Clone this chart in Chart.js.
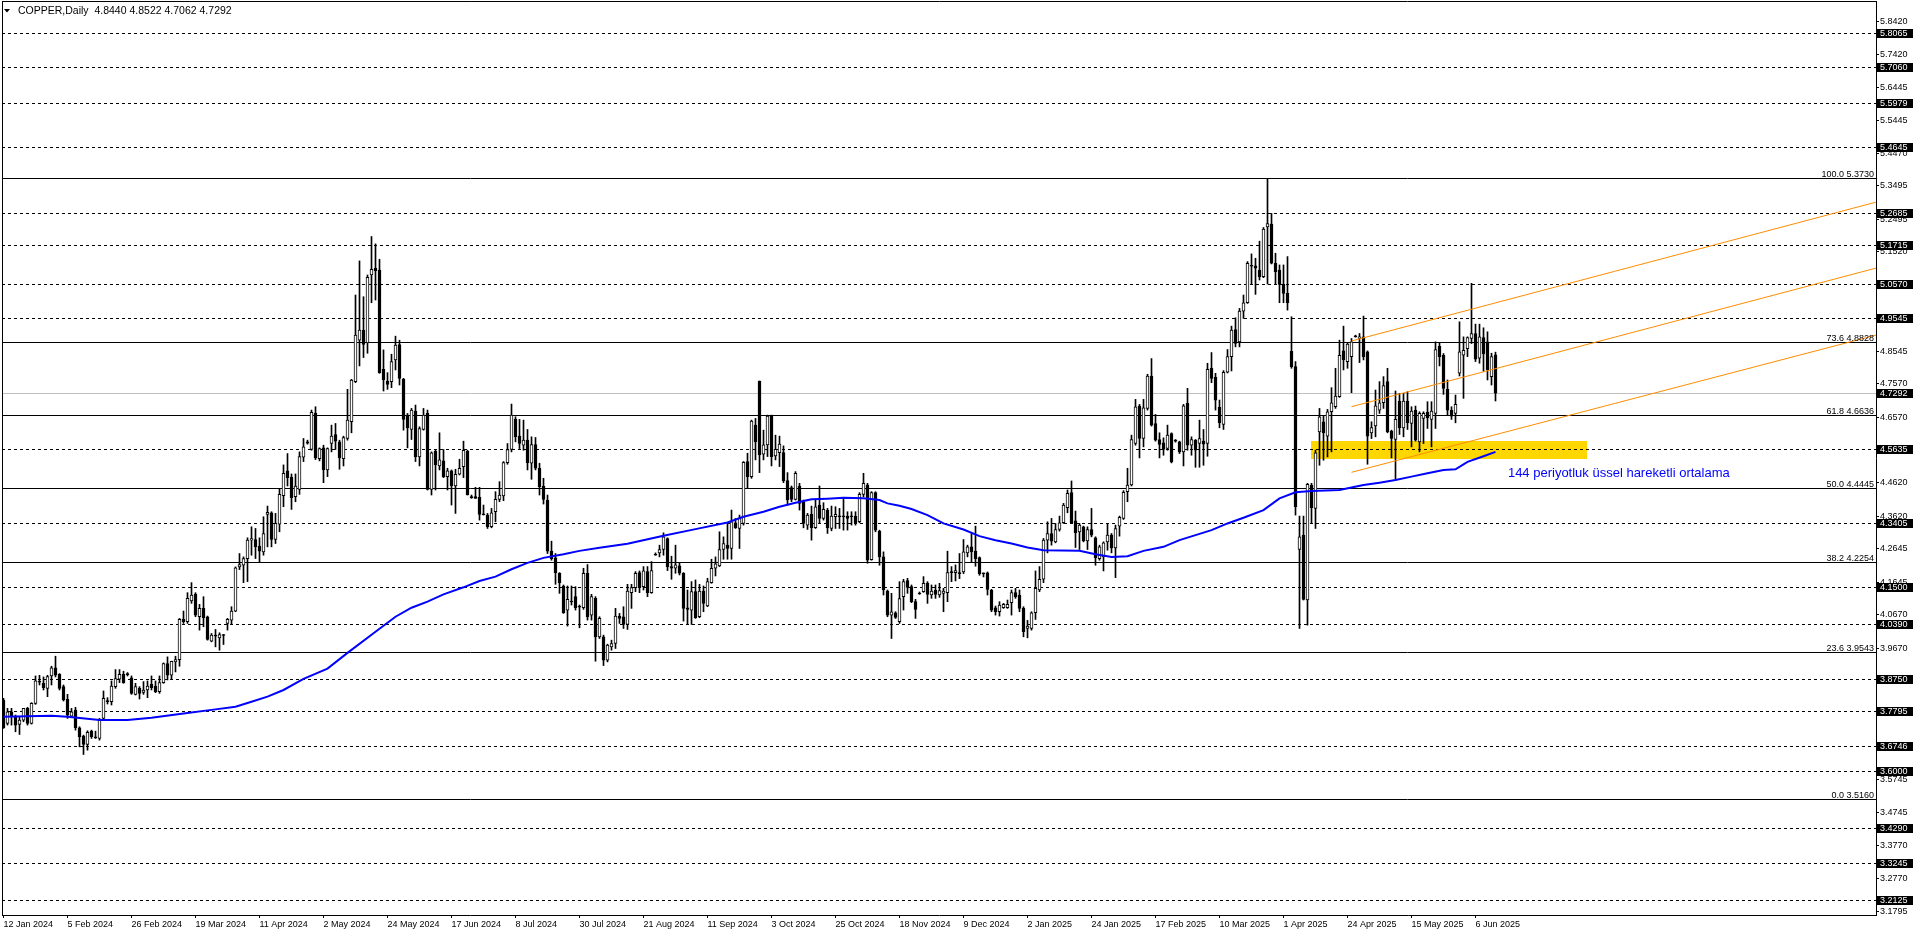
<!DOCTYPE html>
<html><head><meta charset="utf-8">
<script src="https://cdn.jsdelivr.net/npm/chart.js@4.4.1/dist/chart.umd.min.js"></script>
<style>html,body{margin:0;padding:0;background:#fff;overflow:hidden}canvas{display:block}</style>
</head><body>
<canvas id="c" width="1916" height="936"></canvas>
<script>
// ---------- DATA ----------
const chartTitle = "COPPER,Daily";
const lastQuote = ["4.8440", "4.8522", "4.7062", "4.7292"];

const xTickBars = [0,16,32,48,64,80,96,112,128,144,160,176,192,208,224,240,256,272,288,304,320,336,352,368];
const xTickLabels = ["12 Jan 2024","5 Feb 2024","26 Feb 2024","19 Mar 2024","11 Apr 2024","2 May 2024","24 May 2024","17 Jun 2024","8 Jul 2024","30 Jul 2024","21 Aug 2024","11 Sep 2024","3 Oct 2024","25 Oct 2024","18 Nov 2024","9 Dec 2024","2 Jan 2025","24 Jan 2025","17 Feb 2025","10 Mar 2025","1 Apr 2025","24 Apr 2025","15 May 2025","6 Jun 2025"];

const yTickValues = [5.8420,5.7420,5.6445,5.5445,5.4470,5.3495,5.2495,5.1520,5.0545,4.9545,4.8545,4.7570,4.6570,4.5595,4.4620,4.3620,4.2645,4.1645,4.0670,3.9670,3.8695,3.7720,3.6720,3.5745,3.4745,3.3770,3.2770,3.1795];

const opens = [
3.812,3.742,3.777,3.764,3.739,3.752,3.787,3.742,3.802,3.865,
3.862,3.847,3.884,3.908,3.889,3.852,3.814,3.764,3.782,3.729,
3.704,3.679,3.719,3.700,3.697,3.757,3.807,3.807,3.852,3.874,
3.889,3.889,3.878,3.829,3.847,3.835,3.842,3.859,3.854,3.837,
3.864,3.921,3.886,3.926,3.933,4.053,4.046,4.108,4.129,4.061,
4.086,4.061,3.988,4.003,3.998,4.005,4.041,4.051,4.078,4.210,
4.215,4.235,4.290,4.292,4.272,4.255,4.367,4.372,4.292,4.338,
4.423,4.497,4.478,4.420,4.442,4.538,4.580,4.561,4.669,4.534,
4.566,4.500,4.579,4.606,4.584,4.534,4.594,4.644,4.764,4.888,
4.918,4.880,5.083,5.103,5.098,4.801,4.766,4.764,4.829,4.875,
4.771,4.664,4.621,4.676,4.539,4.621,4.669,4.442,4.556,4.512,
4.527,4.480,4.497,4.452,4.487,4.510,4.556,4.418,4.420,4.418,
4.367,4.365,4.330,4.375,4.412,4.422,4.522,4.561,4.651,4.601,
4.574,4.589,4.520,4.576,4.505,4.452,4.410,4.257,4.237,4.191,
4.153,4.081,4.106,4.121,4.091,4.088,4.191,4.066,4.116,4.001,
4.001,3.931,3.971,3.981,4.063,4.061,4.038,4.133,4.148,4.193,
4.151,4.196,4.133,4.245,4.252,4.262,4.295,4.211,4.206,4.213,
4.191,4.088,4.081,4.136,4.061,4.138,4.093,4.163,4.206,4.213,
4.262,4.275,4.265,4.342,4.325,4.340,4.525,4.480,4.634,4.766,
4.547,4.575,4.661,4.542,4.552,4.552,4.468,4.447,4.412,4.452,
4.405,4.335,4.367,4.327,4.395,4.355,4.380,4.325,4.360,4.360,
4.361,4.362,4.360,4.362,4.345,4.427,4.455,4.232,4.432,4.317,
4.240,4.138,4.066,4.073,4.046,4.121,4.169,4.151,4.106,4.129,
4.136,4.161,4.126,4.141,4.126,4.131,4.133,4.193,4.193,4.190,
4.195,4.252,4.270,4.257,4.238,4.190,4.192,4.141,4.088,4.076,
4.088,4.088,4.103,4.133,4.126,4.086,4.026,4.026,4.073,4.141,
4.173,4.290,4.310,4.285,4.322,4.342,4.387,4.432,4.348,4.315,
4.330,4.288,4.322,4.297,4.235,4.240,4.285,4.305,4.267,4.332,
4.355,4.435,4.455,4.579,4.691,4.594,4.684,4.781,4.639,4.591,
4.581,4.564,4.609,4.586,4.584,4.554,4.699,4.574,4.589,4.579,
4.586,4.579,4.804,4.777,4.687,4.636,4.792,4.839,4.920,4.883,
4.975,5.000,5.110,5.110,5.098,5.078,5.227,5.235,5.118,5.098,
5.055,5.028,4.855,4.809,4.262,4.305,4.111,4.455,4.385,4.614,
4.644,4.601,4.674,4.689,4.719,4.856,4.824,4.839,4.898,4.893,
4.898,4.853,4.611,4.632,4.679,4.701,4.764,4.616,4.591,4.706,
4.626,4.706,4.639,4.679,4.584,4.654,4.672,4.651,4.669,4.870,
4.843,4.741,4.679,4.669,4.789,4.843,4.863,4.893,4.908,4.834,
4.896,4.883,4.779,4.8440];

const highs = [
3.817,3.787,3.787,3.767,3.762,3.787,3.790,3.804,3.884,3.886,
3.881,3.886,3.913,3.943,3.891,3.857,3.829,3.787,3.790,3.732,
3.707,3.720,3.722,3.719,3.757,3.839,3.819,3.869,3.903,3.903,
3.898,3.894,3.884,3.862,3.852,3.867,3.869,3.884,3.869,3.884,
3.923,3.941,3.928,3.943,4.056,4.078,4.133,4.163,4.133,4.098,
4.121,4.063,4.011,4.023,4.013,4.008,4.056,4.091,4.210,4.250,
4.240,4.297,4.330,4.325,4.297,4.360,4.392,4.375,4.370,4.445,
4.515,4.549,4.488,4.488,4.554,4.594,4.589,4.679,4.689,4.566,
4.574,4.566,4.634,4.639,4.589,4.601,4.741,4.771,5.023,5.125,
5.018,5.083,5.198,5.176,5.130,4.859,4.791,4.846,4.900,4.888,
4.774,4.669,4.684,4.694,4.629,4.684,4.679,4.554,4.559,4.611,
4.561,4.505,4.500,4.502,4.532,4.586,4.559,4.425,4.448,4.448,
4.395,4.370,4.385,4.435,4.465,4.525,4.579,4.697,4.659,4.651,
4.649,4.621,4.599,4.597,4.520,4.475,4.425,4.287,4.250,4.193,
4.156,4.153,4.153,4.151,4.096,4.206,4.217,4.128,4.121,4.061,
4.006,3.979,3.991,4.086,4.071,4.091,4.158,4.158,4.196,4.198,
4.211,4.211,4.226,4.252,4.275,4.312,4.297,4.242,4.275,4.223,
4.193,4.141,4.166,4.171,4.158,4.153,4.176,4.233,4.240,4.315,
4.300,4.340,4.380,4.355,4.365,4.525,4.550,4.649,4.654,4.766,
4.619,4.664,4.664,4.604,4.601,4.572,4.492,4.452,4.495,4.460,
4.410,4.370,4.392,4.410,4.452,4.402,4.385,4.392,4.390,4.385,
4.412,4.375,4.375,4.375,4.432,4.490,4.460,4.435,4.435,4.320,
4.255,4.141,4.131,4.076,4.166,4.173,4.176,4.156,4.113,4.135,
4.181,4.166,4.156,4.156,4.161,4.146,4.257,4.211,4.216,4.250,
4.292,4.275,4.312,4.332,4.240,4.192,4.195,4.143,4.093,4.106,
4.101,4.111,4.141,4.146,4.141,4.091,4.050,4.076,4.198,4.211,
4.295,4.345,4.355,4.340,4.362,4.400,4.440,4.467,4.377,4.340,
4.332,4.330,4.385,4.300,4.275,4.285,4.340,4.310,4.335,4.362,
4.438,4.505,4.604,4.711,4.696,4.711,4.786,4.833,4.666,4.611,
4.596,4.634,4.611,4.591,4.586,4.696,4.744,4.599,4.591,4.649,
4.621,4.819,4.851,4.789,4.709,4.797,4.860,4.930,4.955,4.983,
5.023,5.123,5.146,5.133,5.184,5.225,5.372,5.267,5.148,5.113,
5.113,5.138,4.958,4.824,4.362,4.362,4.460,4.460,4.559,4.684,
4.661,4.681,4.746,4.804,4.888,4.930,4.880,4.893,4.903,4.908,
4.960,4.856,4.644,4.739,4.764,4.779,4.804,4.619,4.736,4.729,
4.729,4.734,4.689,4.691,4.674,4.674,4.704,4.704,4.883,4.880,
4.848,4.769,4.689,4.724,4.943,4.898,4.898,5.058,4.936,4.936,
4.925,4.913,4.849,4.8522];

const lows = [
3.727,3.737,3.737,3.717,3.709,3.747,3.737,3.740,3.799,3.857,
3.842,3.822,3.857,3.881,3.842,3.809,3.757,3.762,3.722,3.672,
3.649,3.662,3.697,3.697,3.692,3.752,3.800,3.797,3.847,3.864,
3.862,3.884,3.829,3.827,3.815,3.829,3.819,3.842,3.834,3.832,
3.862,3.872,3.874,3.896,3.913,4.041,4.041,4.101,4.061,4.021,
4.031,3.991,3.986,3.971,3.961,3.978,4.021,4.038,4.076,4.202,
4.163,4.166,4.245,4.235,4.225,4.245,4.270,4.270,4.280,4.315,
4.390,4.452,4.382,4.405,4.427,4.525,4.577,4.559,4.531,4.527,
4.462,4.480,4.554,4.561,4.502,4.512,4.589,4.611,4.761,4.811,
4.836,4.849,5.000,5.008,4.789,4.736,4.741,4.746,4.799,4.754,
4.619,4.566,4.591,4.525,4.512,4.619,4.440,4.425,4.440,4.500,
4.477,4.440,4.395,4.370,4.485,4.477,4.425,4.415,4.415,4.350,
4.365,4.325,4.327,4.345,4.405,4.408,4.517,4.554,4.584,4.564,
4.559,4.500,4.472,4.500,4.425,4.398,4.250,4.230,4.158,4.131,
4.071,4.033,4.096,4.081,4.028,4.083,4.051,4.051,3.928,3.996,
3.915,3.926,3.961,3.966,4.041,4.026,4.023,4.086,4.136,4.133,
4.141,4.121,4.131,4.245,4.240,4.245,4.199,4.173,4.191,4.186,
4.048,4.038,4.038,4.056,4.058,4.076,4.091,4.161,4.183,4.211,
4.233,4.233,4.233,4.325,4.265,4.335,4.447,4.475,4.530,4.492,
4.530,4.540,4.512,4.530,4.510,4.462,4.395,4.405,4.410,4.380,
4.327,4.322,4.290,4.325,4.340,4.350,4.310,4.318,4.325,4.325,
4.320,4.320,4.335,4.335,4.342,4.420,4.221,4.230,4.315,4.215,
4.126,4.061,3.996,4.056,4.041,4.081,4.131,4.103,4.056,4.128,
4.134,4.101,4.116,4.116,4.119,4.076,4.106,4.166,4.168,4.175,
4.190,4.240,4.225,4.212,4.185,4.180,4.126,4.076,4.066,4.063,
4.086,4.086,4.066,4.116,4.076,4.001,3.998,4.021,4.053,4.136,
4.163,4.252,4.275,4.282,4.317,4.340,4.372,4.340,4.268,4.262,
4.285,4.262,4.300,4.215,4.230,4.198,4.260,4.252,4.178,4.302,
4.352,4.405,4.452,4.574,4.536,4.569,4.679,4.631,4.586,4.536,
4.544,4.559,4.521,4.583,4.549,4.512,4.559,4.544,4.508,4.508,
4.514,4.541,4.761,4.679,4.626,4.621,4.790,4.796,4.868,4.868,
4.953,4.998,5.055,5.025,5.068,5.075,5.056,5.116,5.055,5.000,
5.000,4.978,4.804,4.365,4.026,4.111,4.036,4.340,4.325,4.514,
4.529,4.539,4.554,4.684,4.717,4.799,4.804,4.731,4.897,4.821,
4.829,4.517,4.594,4.599,4.669,4.684,4.611,4.536,4.472,4.606,
4.599,4.621,4.569,4.586,4.554,4.579,4.624,4.569,4.624,4.811,
4.726,4.664,4.651,4.641,4.781,4.714,4.839,4.878,4.824,4.819,
4.795,4.769,4.754,4.7062];

const closes = [
3.729,3.777,3.762,3.737,3.752,3.787,3.742,3.802,3.869,3.868,
3.849,3.882,3.908,3.886,3.847,3.812,3.767,3.777,3.729,3.702,
3.679,3.715,3.702,3.699,3.752,3.817,3.809,3.854,3.876,3.889,
3.864,3.888,3.832,3.852,3.832,3.842,3.854,3.849,3.837,3.864,
3.921,3.886,3.928,3.933,4.053,4.046,4.116,4.126,4.066,4.086,
4.058,3.993,4.006,4.004,4.008,4.006,4.053,4.078,4.207,4.217,
4.235,4.290,4.295,4.270,4.257,4.310,4.373,4.292,4.340,4.427,
4.490,4.477,4.417,4.452,4.540,4.569,4.584,4.672,4.536,4.564,
4.500,4.564,4.601,4.586,4.536,4.597,4.649,4.769,4.903,4.918,
4.875,5.076,5.100,5.096,4.791,4.769,4.756,4.824,4.873,4.774,
4.651,4.626,4.679,4.539,4.624,4.664,4.442,4.551,4.515,4.530,
4.480,4.497,4.452,4.487,4.505,4.559,4.425,4.417,4.415,4.367,
4.366,4.330,4.372,4.412,4.425,4.522,4.561,4.664,4.599,4.579,
4.589,4.522,4.576,4.505,4.450,4.412,4.257,4.235,4.193,4.163,
4.073,4.113,4.105,4.088,4.090,4.191,4.061,4.121,4.001,4.056,
3.931,3.976,3.981,4.063,4.056,4.038,4.138,4.148,4.191,4.148,
4.198,4.133,4.199,4.246,4.262,4.300,4.211,4.206,4.216,4.191,
4.086,4.083,4.136,4.058,4.138,4.101,4.166,4.206,4.219,4.262,
4.280,4.265,4.345,4.327,4.355,4.523,4.480,4.646,4.584,4.545,
4.575,4.661,4.540,4.562,4.577,4.468,4.410,4.412,4.490,4.400,
4.340,4.365,4.327,4.390,4.355,4.382,4.327,4.362,4.367,4.361,
4.360,4.355,4.361,4.340,4.427,4.460,4.230,4.432,4.320,4.240,
4.141,4.066,4.076,4.059,4.115,4.166,4.149,4.106,4.083,4.130,
4.161,4.128,4.138,4.128,4.139,4.138,4.193,4.194,4.199,4.193,
4.255,4.270,4.255,4.235,4.190,4.189,4.143,4.081,4.076,4.096,
4.098,4.098,4.133,4.121,4.086,4.016,4.033,4.073,4.146,4.173,
4.290,4.310,4.287,4.322,4.342,4.395,4.430,4.342,4.312,4.335,
4.288,4.322,4.305,4.238,4.270,4.282,4.305,4.267,4.325,4.358,
4.433,4.455,4.591,4.689,4.594,4.686,4.781,4.634,4.589,4.576,
4.561,4.604,4.524,4.587,4.554,4.692,4.574,4.591,4.559,4.594,
4.577,4.801,4.774,4.709,4.641,4.792,4.839,4.918,4.878,4.975,
5.000,5.118,5.109,5.103,5.078,5.220,5.237,5.118,5.093,5.055,
5.028,5.000,4.809,4.390,4.300,4.113,4.457,4.387,4.551,4.659,
4.611,4.674,4.701,4.721,4.843,4.829,4.876,4.883,4.898,4.898,
4.839,4.601,4.627,4.692,4.701,4.752,4.614,4.594,4.651,4.626,
4.706,4.641,4.676,4.589,4.669,4.669,4.656,4.676,4.860,4.839,
4.744,4.679,4.661,4.696,4.853,4.858,4.896,4.908,4.831,4.898,
4.847,4.799,4.839,4.7292];

// 144-period EMA at these bars
const emaBars = [0,12,16,24,31,37,45,53,58,62,66,70,75,81,86,93,98,102,106,110,115,119,123,127,131,135,140,144,149,156,165,173,181,185,190,194,198,202,206,210,215,219,221,224,227,231,235,240,244,248,252,256,260,269,273,277,281,285,290,294,298,302,306,310,315,319,323,327,334,340,344,348,352,356,360,363,366,370,373];
const emaValues = [3.762,3.765,3.762,3.752,3.752,3.759,3.772,3.784,3.792,3.807,3.822,3.842,3.875,3.906,3.953,4.016,4.061,4.088,4.106,4.128,4.149,4.168,4.181,4.203,4.222,4.237,4.248,4.258,4.267,4.279,4.303,4.323,4.343,4.360,4.375,4.390,4.402,4.412,4.414,4.417,4.415,4.410,4.400,4.393,4.383,4.365,4.340,4.322,4.302,4.290,4.280,4.268,4.260,4.258,4.248,4.240,4.242,4.258,4.270,4.290,4.305,4.320,4.340,4.357,4.380,4.415,4.433,4.437,4.440,4.455,4.462,4.470,4.480,4.490,4.500,4.502,4.524,4.541,4.554];

// horizontal support/resistance levels (dashed)
const levelLines = [5.8065,5.7060,5.5979,5.4645,5.2685,5.1715,5.0570,4.9545,4.5635,4.3405,4.1500,4.0390,3.8750,3.7795,3.6746,3.6000,3.4290,3.3245,3.2125];
const currentPrice = 4.7292;
// Fibonacci retracement
const fibPercents = ["100.0","73.6","61.8","50.0","38.2","23.6","0.0"];
const fibLevels = [5.3730,4.8828,4.6636,4.4445,4.2254,3.9543,3.5160];
// orange channel: [startBar, startPrice, endBar, endPrice]
const channelUpper = [337, 4.8856, 469.2, 5.3042];
const channelMiddle = [337, 4.6891, 469.2, 5.1069];
const channelLower = [337, 4.4929, 469.2, 4.9065];
// yellow support zone
const zoneBars = [326.9, 395.9];
const zonePrices = [4.5336, 4.5865];
// annotation
const noteText = "144 periyotluk üssel hareketli ortalama";
const noteAnchor = [376.1, 4.4908];

// ---------- CHART ----------
const FONT = "'Liberation Sans', Arial, sans-serif";
Chart.defaults.font.family = FONT;
Chart.defaults.color = '#000';

const bars = opens.map((o, i) => i);
const wickData = bars.map(i => ({x: i, y: [lows[i], highs[i]]}));
const bodyData = bars.map(i => ({x: i, y: [Math.min(opens[i], closes[i]), Math.max(opens[i], closes[i])]}));
const emaData = emaBars.map((b, k) => ({x: b, y: emaValues[k]}));

function bodyColor(ctx) {
  const i = ctx.dataIndex;
  if (i === undefined) return '#000';
  const o = opens[i], c = closes[i];
  if (Math.abs(c - o) < 0.004) return '#000';
  return c >= o ? '#ffffff' : '#000000';
}

function hLine(ctx, a, py) {
  ctx.beginPath(); ctx.moveTo(a.left, py); ctx.lineTo(a.right, py); ctx.stroke();
}

const overlay = {
  id: 'overlay',
  beforeDatasetsDraw(chart) {
    const {ctx, chartArea: a, scales: {x, y}} = chart;
    ctx.save();
    // yellow zone
    const zx0 = x.getPixelForValue(zoneBars[0]), zx1 = x.getPixelForValue(zoneBars[1]);
    const zy0 = y.getPixelForValue(zonePrices[1]), zy1 = y.getPixelForValue(zonePrices[0]);
    ctx.fillStyle = '#ffd700';
    ctx.fillRect(Math.round(zx0), Math.round(zy0), Math.round(zx1 - zx0), Math.round(zy1 - zy0));
    ctx.lineWidth = 1;
    // current price line
    ctx.strokeStyle = '#c0c0c0';
    hLine(ctx, a, Math.round(y.getPixelForValue(currentPrice)) + 0.5);
    // fib lines
    ctx.strokeStyle = '#000';
    fibLevels.forEach(v => hLine(ctx, a, Math.round(y.getPixelForValue(v)) + 0.5));
    // dashed levels
    ctx.setLineDash([3, 3]);
    levelLines.forEach(v => hLine(ctx, a, Math.round(y.getPixelForValue(v)) + 0.5));
    ctx.setLineDash([]);
    ctx.restore();
  },
  afterDatasetsDraw(chart) {
    const {ctx, chartArea: a, scales: {x, y}} = chart;
    ctx.save();
    ctx.beginPath(); ctx.rect(a.left, a.top, a.right - a.left, a.bottom - a.top); ctx.clip();
    // orange channel
    ctx.strokeStyle = '#ff8c00'; ctx.lineWidth = 1;
    [channelUpper, channelMiddle, channelLower].forEach(l => {
      const x0 = x.getPixelForValue(l[0]), y0 = y.getPixelForValue(l[1]);
      const x1 = x.getPixelForValue(l[2]), y1 = y.getPixelForValue(l[3]);
      ctx.beginPath(); ctx.moveTo(x0, y0); ctx.lineTo(x1, y1); ctx.stroke();
    });
    // fib labels
    ctx.font = '9px ' + FONT; ctx.fillStyle = '#000'; ctx.textAlign = 'right'; ctx.textBaseline = 'alphabetic';
    fibLevels.forEach((v, k) => {
      const py = Math.round(y.getPixelForValue(v));
      ctx.fillText(fibPercents[k] + ' ' + v.toFixed(4), a.right - 2, py - 1.5);
    });
    // annotation
    ctx.font = '13px ' + FONT; ctx.fillStyle = '#0000ff'; ctx.textAlign = 'left'; ctx.textBaseline = 'middle';
    ctx.fillText(noteText, x.getPixelForValue(noteAnchor[0]), y.getPixelForValue(noteAnchor[1]));
    ctx.restore();
  },
  afterDraw(chart) {
    const {ctx, chartArea: a, scales: {y}} = chart;
    ctx.save();
    // frame left/top
    ctx.strokeStyle = '#000'; ctx.lineWidth = 1;
    ctx.beginPath(); ctx.moveTo(a.left + 0.5, a.top + 0.5); ctx.lineTo(a.right, a.top + 0.5);
    ctx.moveTo(a.left + 0.5, a.top); ctx.lineTo(a.left + 0.5, a.bottom); ctx.stroke();
    // highlighted price labels on the axis
    ctx.font = '9px ' + FONT; ctx.textAlign = 'left'; ctx.textBaseline = 'middle';
    levelLines.concat([currentPrice]).forEach(v => {
      const py = Math.round(y.getPixelForValue(v));
      ctx.fillStyle = '#000';
      ctx.fillRect(a.right + 1, py - 4, 36, 9);
      ctx.fillStyle = '#fff';
      ctx.fillText(v.toFixed(4), a.right + 4, py + 0.5);
    });
    // title
    ctx.fillStyle = '#000';
    ctx.beginPath(); ctx.moveTo(4, 9); ctx.lineTo(10, 9); ctx.lineTo(7, 12.5); ctx.closePath(); ctx.fill();
    ctx.font = '10.5px ' + FONT; ctx.textBaseline = 'middle';
    ctx.fillText(chartTitle + '  ' + lastQuote.join(' '), 18, 11);
    ctx.restore();
  }
};

new Chart(document.getElementById('c'), {
  type: 'bar',
  data: {
    datasets: [
      {type: 'line', label: 'EMA144', data: emaData, borderColor: '#0000ff', borderWidth: 2, pointRadius: 0, tension: 0, fill: false},
      {label: 'body', data: bodyData, backgroundColor: bodyColor, borderColor: '#000', borderWidth: 1, borderSkipped: false, barThickness: 3, grouped: false, minBarLength: 1},
      {label: 'wick', data: wickData, backgroundColor: '#000', borderWidth: 0, barThickness: 1, grouped: false}
    ]
  },
  options: {
    responsive: false,
    devicePixelRatio: 1,
    animation: false,
    events: [],
    layout: {padding: {left: 2, top: 1, right: 0, bottom: 0}},
    plugins: {legend: {display: false}, tooltip: {enabled: false}, title: {display: false}},
    scales: {
      x: {
        type: 'linear', min: -0.375, max: 468.125, offset: false,
        grid: {drawOnChartArea: false, drawTicks: true, tickLength: 3, color: '#000', offset: false},
        border: {display: true, color: '#000'},
        ticks: {autoSkip: false, maxRotation: 0, minRotation: 0, align: 'start', padding: 1,
          font: {size: 9}, color: '#000',
          callback: (v, idx) => xTickLabels[idx]},
        afterBuildTicks: s => { s.ticks = xTickBars.map(v => ({value: v})); },
        afterFit: s => { s.height = 21; s.paddingLeft = 0; s.paddingRight = 0; }
      },
      y: {
        type: 'linear', position: 'right', min: 3.1691, max: 5.9023, beginAtZero: false,
        grid: {drawOnChartArea: false, drawTicks: true, tickLength: 3, color: '#000'},
        border: {display: true, color: '#000'},
        ticks: {autoSkip: false, padding: 1, font: {size: 9}, color: '#000',
          callback: v => Number(v).toFixed(4)},
        afterBuildTicks: s => { s.ticks = yTickValues.map(v => ({value: v})); },
        afterFit: s => { s.width = 40; s.paddingTop = 0; s.paddingBottom = 0; }
      }
    }
  },
  plugins: [overlay]
});
</script>
</body></html>
